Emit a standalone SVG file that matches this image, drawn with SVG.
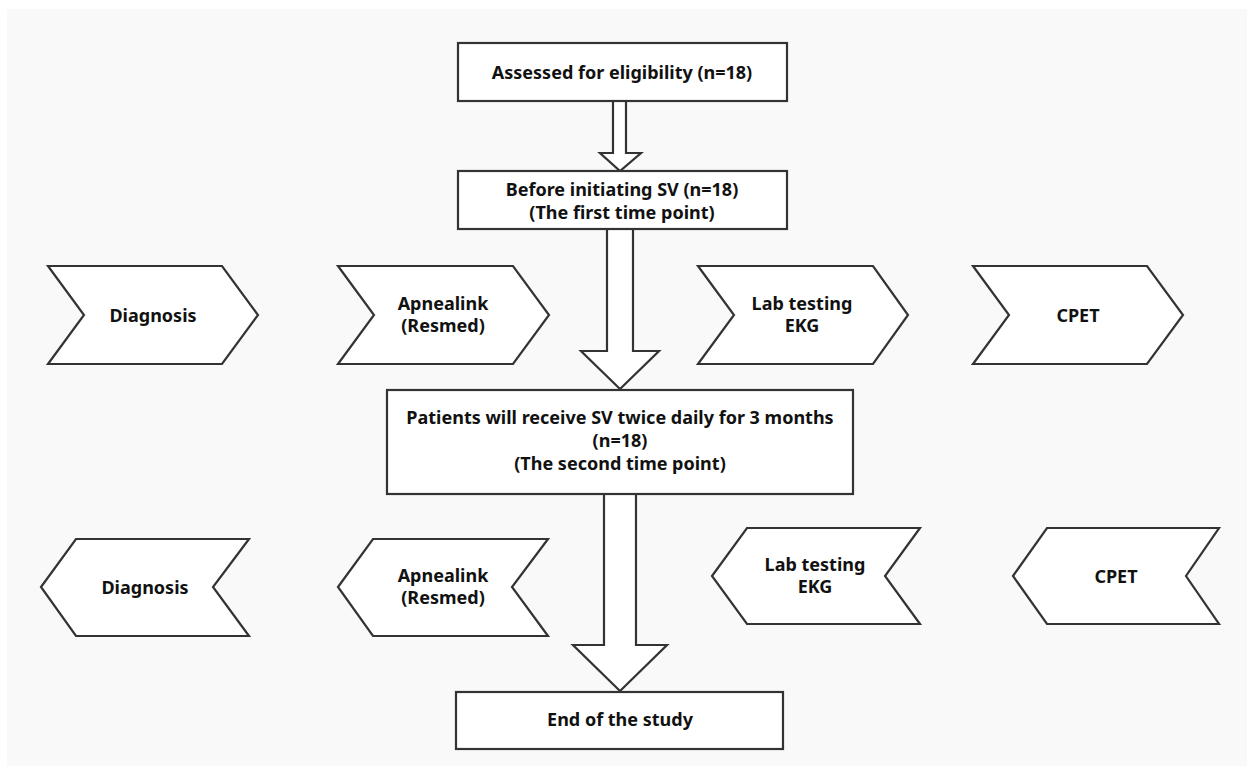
<svg xmlns="http://www.w3.org/2000/svg" width="1253" height="773" viewBox="0 0 1253 773">
<style>
.box{fill:#ffffff;stroke:#333333;stroke-width:2.2}
.arr{fill:#ffffff;stroke:#333333;stroke-width:2.2;stroke-linejoin:miter}
text{font-family:"Noto Sans","Open Sans","DejaVu Sans",sans-serif;font-size:18px;font-weight:bold;fill:#111111;text-anchor:middle}
</style>
<rect x="0" y="0" width="1253" height="773" fill="#ffffff"/>
<rect x="7" y="9" width="1240" height="757" fill="#f9f9f9"/>
<g id="connectors">
<polygon class="arr" points="613,101 626,101 626,153 641,153 620,171 600,153 613,153"/>
<polygon class="arr" points="607,229 633,229 633,351 659,351 620,389 581,351 607,351"/>
<polygon class="arr" points="604,494 636,494 636,645 667,645 620,691 573,645 604,645"/>
</g>
<g id="n-assessed">
<rect class="box" x="458" y="43" width="329" height="58"/>
<text x="622" y="79">Assessed for eligibility (n=18)</text>
</g>
<g id="n-before">
<rect class="box" x="458" y="171" width="329" height="58"/>
<text x="622" y="196">Before initiating SV (n=18)</text>
<text x="622" y="219">(The first time point)</text>
</g>
<g id="n-patients">
<rect class="box" x="387" y="390" width="466" height="104"/>
<text x="620" y="424">Patients will receive SV twice daily for 3 months</text>
<text x="620" y="447">(n=18)</text>
<text x="620" y="470">(The second time point)</text>
</g>
<g id="n-end">
<rect class="box" x="456" y="692" width="327" height="57"/>
<text x="620" y="726">End of the study</text>
</g>
<g id="c1-diagnosis">
<polygon class="box" points="48,266 222,266 258,315 222,364 48,364 84,315"/>
<text x="153" y="322">Diagnosis</text>
</g>
<g id="c1-apnealink">
<polygon class="box" points="338,266 513,266 549,315 513,364 338,364 374,315"/>
<text x="443" y="310">Apnealink</text>
<text x="443" y="332">(Resmed)</text>
</g>
<g id="c1-lab">
<polygon class="box" points="698,266 873,266 908,315 873,364 698,364 734,315"/>
<text x="802" y="310">Lab testing</text>
<text x="802" y="332">EKG</text>
</g>
<g id="c1-cpet">
<polygon class="box" points="973,266 1147,266 1183,315 1147,364 973,364 1009,315"/>
<text x="1078" y="322">CPET</text>
</g>
<g id="c2-diagnosis">
<polygon class="box" points="41,587 76,539 249,539 213,587 249,636 76,636"/>
<text x="145" y="594">Diagnosis</text>
</g>
<g id="c2-apnealink">
<polygon class="box" points="338,587 373,539 548,539 512,587 548,636 373,636"/>
<text x="443" y="582">Apnealink</text>
<text x="443" y="604">(Resmed)</text>
</g>
<g id="c2-lab">
<polygon class="box" points="712,576 747,528 920,528 885,576 920,624 747,624"/>
<text x="815" y="571">Lab testing</text>
<text x="815" y="593">EKG</text>
</g>
<g id="c2-cpet">
<polygon class="box" points="1013,576 1047,528 1219,528 1186,576 1219,624 1047,624"/>
<text x="1116" y="583">CPET</text>
</g>
</svg>
